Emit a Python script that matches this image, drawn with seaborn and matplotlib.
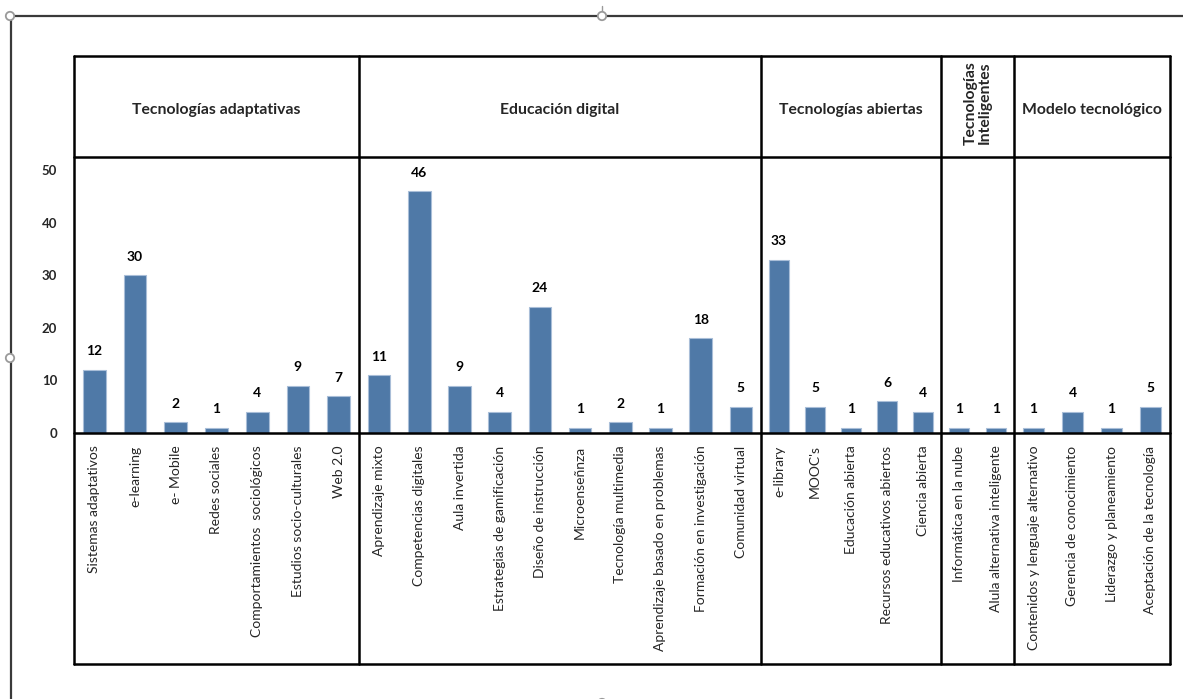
import matplotlib
matplotlib.use("Agg")
import matplotlib.pyplot as plt
from matplotlib.lines import Line2D
from matplotlib.patches import Circle
import seaborn as sns
import pandas as pd

# --- data -----------------------------------------------------------------
groups = [
    "Tecnologías adaptativas",
    "Educación digital",
    "Tecnologías abiertas",
    "Tecnologías\nInteligentes",
    "Modelo tecnológico",
]

cat_adaptativas = ["Sistemas adaptativos", "e-learning", "e- Mobile", "Redes sociales",
                   "Comportamientos  sociológicos", "Estudios socio-culturales", "Web 2.0"]
val_adaptativas = [12, 30, 2, 1, 4, 9, 7]

cat_digital = ["Aprendizaje mixto", "Competencias digitales", "Aula invertida",
               "Estrategias de gamificación", "Diseño de instrucción", "Microenseñnza",
               "Tecnología multimedia", "Aprendizaje basado en problemas",
               "Formación en investigación", "Comunidad virtual"]
val_digital = [11, 46, 9, 4, 24, 1, 2, 1, 18, 5]

cat_abiertas = ["e-library", "MOOC's", "Educación abierta",
                "Recursos educativos abiertos", "Ciencia abierta"]
val_abiertas = [33, 5, 1, 6, 4]

cat_inteligentes = ["Informática en la nube", "Alula alternativa inteligente"]
val_inteligentes = [1, 1]

cat_modelo = ["Contenidos y lenguaje alternativo", "Gerencia de conocimiento",
              "Liderazgo y planeamiento", "Aceptación de la tecnología"]
val_modelo = [1, 4, 1, 5]

y_ticks = [0, 10, 20, 30, 40, 50]

cats_by_group = [cat_adaptativas, cat_digital, cat_abiertas, cat_inteligentes, cat_modelo]
vals_by_group = [val_adaptativas, val_digital, val_abiertas, val_inteligentes, val_modelo]

# --- style ----------------------------------------------------------------
sns.set_style("white")
plt.rcParams["font.family"] = ["Lato", "DejaVu Sans"]

W, H = 1183, 699
fig = plt.figure(figsize=(W / 100, H / 100), dpi=100)

# table geometry in pixels
col_edges = [74, 359, 761, 941, 1014, 1170]
tbl_top, tbl_head, tbl_base, tbl_bottom = 56, 157, 433, 664

BAR = "#4F79A7"
LW = 1.8
YMAX = 52.5

for i, (cats, vals, g) in enumerate(zip(cats_by_group, vals_by_group, groups)):
    x0, x1 = col_edges[i], col_edges[i + 1]
    ax = fig.add_axes([x0 / W, 1 - tbl_base / H, (x1 - x0) / W, (tbl_base - tbl_head) / H])
    d = pd.DataFrame({"categoria": cats, "valor": vals})
    sns.barplot(data=d, x="categoria", y="valor", color=BAR, width=0.56,
                edgecolor="#A9BED8", linewidth=0.8, saturation=1, ax=ax)
    for cont in ax.containers:
        ax.bar_label(cont, padding=9, fontsize=10, fontweight="bold", color="black")
    ax.set_xlim(-0.5, len(cats) - 0.5)
    ax.set_ylim(0, YMAX)
    ax.set_xticks(range(len(cats)))
    ax.set_xticklabels(cats, rotation=90, ha="center", va="top", fontsize=10)
    ax.tick_params(axis="x", length=0, pad=9)
    ax.set_xlabel("")
    ax.set_ylabel("")
    ax.grid(False)
    for s in ax.spines.values():
        s.set_visible(False)
    if i == 0:
        ax.set_yticks(y_ticks)
        ax.set_yticklabels([str(t) for t in y_ticks], fontsize=9.5, fontweight="bold")
        ax.tick_params(axis="y", length=0, pad=12)
    else:
        ax.set_yticks([])

    # group header
    cx = (x0 + x1) / 2 / W
    if "\n" in g:
        fig.text(cx, 1 - 61 / H, g, rotation=90, ha="center", va="top",
                 fontsize=11.3, fontweight="bold", linespacing=1.0)
    else:
        fig.text(cx, 1 - 110 / H, g, ha="center", va="center",
                 fontsize=11.3, fontweight="bold")

# --- table lines ------------------------------------------------------------
for py in (tbl_top, tbl_head, tbl_base, tbl_bottom):
    fig.add_artist(Line2D([col_edges[0] / W, col_edges[-1] / W], [1 - py / H, 1 - py / H],
                          color="black", lw=LW, zorder=5))
for px in col_edges:
    fig.add_artist(Line2D([px / W, px / W], [1 - tbl_top / H, 1 - tbl_bottom / H],
                          color="black", lw=LW, zorder=5))

# --- outer selection frame -------------------------------------------------
frame_col = "#3a3a3a"
fig.add_artist(Line2D([10 / W, 1], [1 - 16 / H, 1 - 16 / H], color=frame_col, lw=1.6))
fig.add_artist(Line2D([11 / W, 11 / W], [0, 1 - 16 / H], color=frame_col, lw=1.6))
fig.add_artist(Line2D([602 / W, 602 / W], [1 - 6 / H, 1 - 12 / H], color="#9a9a9a", lw=1.0))
for hx, hy in [(10, 16), (602, 16), (10, 358), (602, 703)]:
    fig.add_artist(Circle((hx, H - hy), 4.2, transform=None, facecolor="white",
                          edgecolor="#9a9a9a", lw=1.3, zorder=10))

fig.savefig("out.png", dpi=100, facecolor="white")
